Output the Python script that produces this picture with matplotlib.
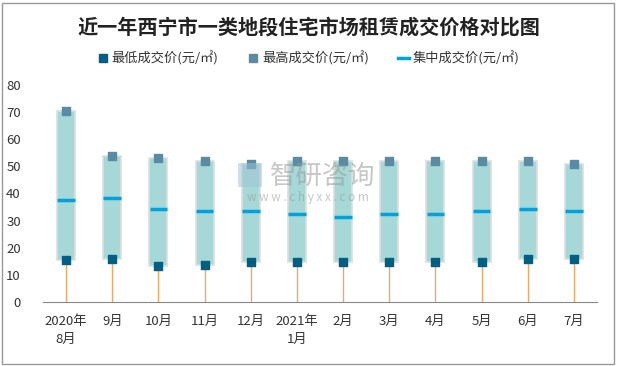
import matplotlib
matplotlib.use("Agg")
import matplotlib.pyplot as plt
from matplotlib.lines import Line2D
from matplotlib.patches import Rectangle

plt.rcParams['font.family'] = ['Noto Sans CJK SC', 'DejaVu Sans']

months = ['2020年\n8月', '9月', '10月', '11月', '12月', '2021年\n1月',
          '2月', '3月', '4月', '5月', '6月', '7月']
low = [15.4, 15.8, 13.2, 13.5, 14.6, 14.6, 14.6, 14.6, 14.6, 14.6, 15.8, 15.8]
high = [70.4, 53.8, 53.0, 51.9, 50.7, 51.9, 51.9, 51.9, 51.9, 51.9, 51.9, 50.8]
mid = [37.5, 38.3, 34.2, 33.5, 33.5, 32.4, 31.3, 32.4, 32.4, 33.5, 34.2, 33.5]

c_low = '#005f83'
c_high = '#5a8ba5'
c_mid = '#00a2dd'
c_box = '#a5d8d6'
c_drop = '#f0a86a'

fig = plt.figure(figsize=(6.17, 3.66), dpi=100)
ax = fig.add_axes([43 / 617, 1 - 302 / 366, 554 / 617, 217 / 366])

x = list(range(len(months)))
ax.bar(x, [h - l for h, l in zip(high, low)], bottom=low, width=0.39,
       color=c_box, edgecolor='#dedede', linewidth=1.2, zorder=2)
ax.vlines(x, 0, low, color=c_drop, linewidth=1, zorder=1)
ax.hlines(mid, [i - 0.19 for i in x], [i + 0.19 for i in x],
          color=c_mid, linewidth=2.5, zorder=3)
ax.scatter(x, low, marker='s', s=34, color=c_low, zorder=4)
ax.scatter(x, high, marker='s', s=34, color=c_high, zorder=4)

ax.set_xlim(-0.5, len(months) - 0.5)
ax.set_ylim(0, 80)
ax.set_yticks(range(0, 81, 10))
ax.set_xticks(x)
ax.set_xticklabels(months, fontsize=9.5, color='#333333', linespacing=1.5)
ax.tick_params(axis='both', length=0, labelsize=9.5, colors='#333333')
ax.tick_params(axis='y', pad=16)
ax.tick_params(axis='x', pad=9)
for s in ['top', 'right', 'left']:
    ax.spines[s].set_visible(False)
ax.spines['bottom'].set_color('#888888')

# watermark
fig.patches.append(Rectangle((238 / 617, 1 - 187 / 366), 24 / 617, 24 / 366,
                             transform=fig.transFigure, facecolor='#9fc3d8',
                             alpha=0.5, edgecolor='none', zorder=5))
fig.text(270 / 617, 1 - 176 / 366, '智研咨询', fontsize=19, color='#999999',
         alpha=0.55, va='center', ha='left', zorder=5)
fig.text(308 / 617, 1 - 197 / 366, 'w w w . c h y x x . c o m', fontsize=8.5,
         color='#999999', alpha=0.55, va='center', ha='center', zorder=5)

fig.text(0.5, 1 - 27 / 366, '近一年西宁市一类地段住宅市场租赁成交价格对比图',
         fontsize=14.5, fontweight='bold', ha='center', va='center', color='#222222')

handles = [
    Line2D([], [], marker='s', linestyle='none', color=c_low, markersize=6),
    Line2D([], [], marker='s', linestyle='none', color=c_high, markersize=6),
    Line2D([], [], color=c_mid, linewidth=2.5),
]
labels = ['最低成交价(元/㎡)', '最高成交价(元/㎡)', '集中成交价(元/㎡)']
fig.legend(handles, labels, loc='center', bbox_to_anchor=(0.5, 1 - 58 / 366),
           ncol=3, frameon=False, fontsize=9.5, handlelength=0.8,
           handletextpad=0.3, columnspacing=2.2, labelcolor='#333333')

fig.patches.append(Rectangle((2 / 617, 2 / 366), 612 / 617, 361 / 366,
                             transform=fig.transFigure, fill=False,
                             edgecolor='#999999', linewidth=1))

fig.savefig('out.png', dpi=100)
